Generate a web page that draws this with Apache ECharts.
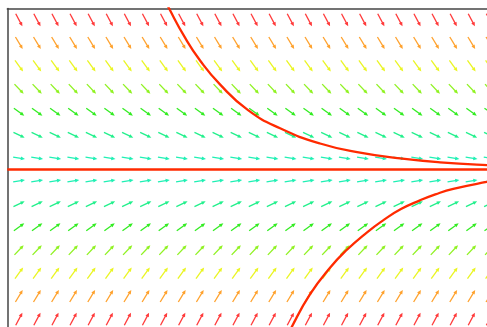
<!DOCTYPE html>
<html>
<head>
<meta charset="utf-8">
<script src="https://cdn.jsdelivr.net/npm/echarts@6/dist/echarts.min.js"></script>
<style>html,body{margin:0;padding:0;background:#fff;}#c{width:487px;height:327px;}</style>
</head>
<body>
<div id="c"></div>
<script>
// Grid of direction-field sample points (column index, row height)
var colXs = [0,1,2,3,4,5,6,7,8,9,10,11,12,13,14,15,16,17,18,19,20,21,22,23,24,25,26];
var rowYs = [6.5,5.5,4.5,3.5,2.5,1.5,0.5,-0.5,-1.5,-2.5,-3.5,-4.5,-5.5,-6.5];
// slope (dy/dx, data units) read per row
var rowSlopes = [-1.48,-1.30,-1.07,-0.83,-0.57,-0.37,-0.13,0.13,0.37,0.57,0.83,1.07,1.30,1.48];
var rowColors = ['#ff3b3b','#ffa22e','#eaf522','#90f222','#33ec22','#22f08c','#20f0b4',
                 '#20f0b4','#22f08c','#33ec22','#90f222','#eaf522','#ffa22e','#ff3b3b'];
// solution curves
var upperCurveX = [8.05,8.29,9.17,10.0,11.1,12.65,14.42,16.63,18.84,21.05,23.26,25.86,26.4];
var upperCurveY = [7.4,7.0,5.73,4.74,3.70,2.58,1.79,1.13,0.73,0.48,0.31,0.19,0.18];
var lowerCurveX = [14.75,15.07,16.08,17.18,18.1,19.21,20.13,21.1,22.15,23.0,23.99,25.84,26.4];
var lowerCurveY = [-7.4,-6.84,-5.42,-4.27,-3.5,-2.74,-2.2,-1.72,-1.34,-1.08,-0.84,-0.54,-0.48];
var equilibriumX = [-0.65,26.35];
var equilibriumY = [0,0];

var arrowData = [];
for (var r = 0; r < rowYs.length; r++) {
  for (var c = 0; c < colXs.length; c++) {
    arrowData.push([colXs[c], rowYs[r], rowSlopes[r], r]);
  }
}
function zip(a, b) { return a.map(function (v, i) { return [v, b[i]]; }); }

var chart = echarts.init(document.getElementById('c'), null, {renderer: 'canvas'});
var L = 0.66;
var frame = {show: true, onZero: false, lineStyle: {color: '#454545', width: 1.5}};
chart.setOption({
  animation: false,
  grid: {left: 7.3, top: 8.5, width: 488.7, height: 322, outerBoundsMode: 'none', containLabel: false},
  xAxis: {type: 'value', min: -0.65, max: 26.35, position: 'top', axisLine: frame,
          axisTick: {show: false}, axisLabel: {show: false}, splitLine: {show: false}},
  yAxis: {type: 'value', min: -7, max: 7, position: 'left', axisLine: frame,
          axisTick: {show: false}, axisLabel: {show: false}, splitLine: {show: false}},
  series: [
    {
      type: 'custom',
      data: arrowData,
      clip: true,
      renderItem: function (params, api) {
        var x = api.value(0), y = api.value(1), s = api.value(2), ci = api.value(3);
        var n = Math.sqrt(1 + s * s);
        var dx = L / n / 2, dy = L * s / n / 2;
        var p0 = api.coord([x - dx, y - dy]);
        var p1 = api.coord([x + dx, y + dy]);
        var ux = p1[0] - p0[0], uy = p1[1] - p0[1];
        var len = Math.sqrt(ux * ux + uy * uy);
        ux /= len; uy /= len;
        var vx = -uy, vy = ux;
        var hl = 4.2, hw = 1.9;
        var col = rowColors[ci];
        return {
          type: 'group',
          children: [
            {type: 'line', shape: {x1: p0[0], y1: p0[1], x2: p1[0] - ux * 2.5, y2: p1[1] - uy * 2.5},
             style: {stroke: col, lineWidth: 1.3}},
            {type: 'polygon', shape: {points: [[p1[0], p1[1]],
               [p1[0] - ux * hl + vx * hw, p1[1] - uy * hl + vy * hw],
               [p1[0] - ux * hl - vx * hw, p1[1] - uy * hl - vy * hw]]},
             style: {fill: col}}
          ]
        };
      },
      z: 1
    },
    {type: 'line', data: zip(equilibriumX, equilibriumY), showSymbol: false, symbol: 'none',
     lineStyle: {color: '#ff2a00', width: 2.5}, z: 3},
    {type: 'line', data: zip(upperCurveX, upperCurveY), smooth: 0.5, showSymbol: false, symbol: 'none',
     lineStyle: {color: '#ff2a00', width: 2.3}, z: 3},
    {type: 'line', data: zip(lowerCurveX, lowerCurveY), smooth: 0.5, showSymbol: false, symbol: 'none',
     lineStyle: {color: '#ff2a00', width: 2.3}, z: 3}
  ]
});
</script>
</body>
</html>
